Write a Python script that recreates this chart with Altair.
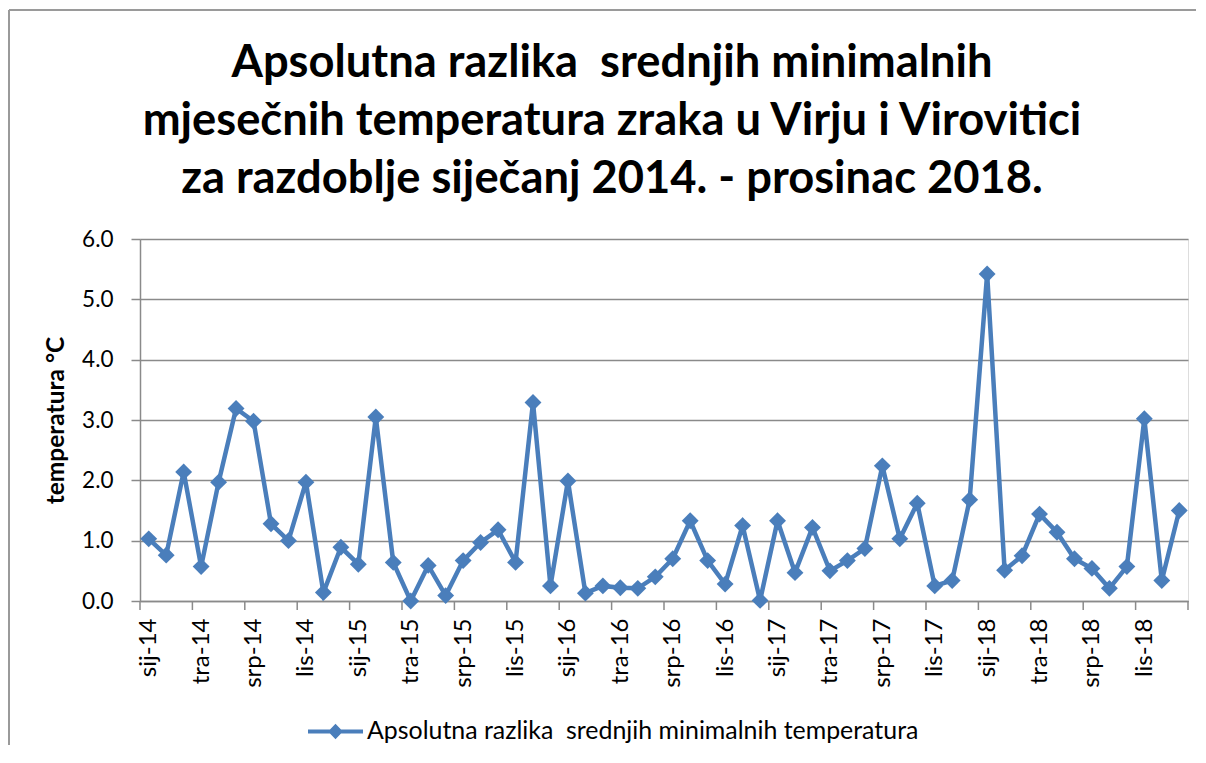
import json
import altair as alt
import pandas as pd

# ---------------- data ----------------
month_abbr = ["sij", "velj", "ožu", "tra", "svi", "lip", "srp", "kol", "ruj", "lis", "stu", "pro"]
years = ["14", "15", "16", "17", "18"]
labels = [f"{m}-{y}" for y in years for m in month_abbr]

values_2014 = [1.03, 0.76, 2.14, 0.57, 1.97, 3.19, 2.98, 1.28, 1.00, 1.97, 0.14, 0.89]
values_2015 = [0.61, 3.05, 0.64, 0.00, 0.59, 0.09, 0.67, 0.97, 1.18, 0.64, 3.29, 0.25]
values_2016 = [1.99, 0.13, 0.25, 0.22, 0.21, 0.40, 0.70, 1.33, 0.67, 0.28, 1.25, 0.01]
values_2017 = [1.33, 0.47, 1.22, 0.50, 0.67, 0.87, 2.24, 1.03, 1.62, 0.25, 0.34, 1.68]
values_2018 = [5.42, 0.51, 0.75, 1.44, 1.14, 0.70, 0.54, 0.21, 0.57, 3.02, 0.34, 1.50]
values = values_2014 + values_2015 + values_2016 + values_2017 + values_2018

series_name = "Apsolutna razlika \u00a0srednjih minimalnih temperatura"
title_lines = [
    "Apsolutna razlika \u00a0srednjih minimalnih",
    "mjesečnih temperatura zraka u Virju i Virovitici",
    "za razdoblje siječanj 2014. - prosinac 2018.",
]
y_title = "temperatura °C"
y_ticks = [0, 1, 2, 3, 4, 5, 6]

n = len(values)
df = pd.DataFrame({
    "pos": [i + 0.5 for i in range(n)],
    "label": labels,
    "value": values,
    "series": [series_name] * n,
})
tick_df = pd.DataFrame({"b": list(range(0, n + 1, 3))})
label_positions = [i + 0.5 for i in range(0, n, 3)]

LINE = "#4A7EBB"
GRID = "#8A8A8A"
FONT = "Lato"

W, H = 1048, 362

x_scale = alt.Scale(domain=[0, n], nice=False, zero=False)
label_expr = json.dumps(labels, ensure_ascii=False) + "[floor(datum.value)]"

legend_symbol = "M-1,-0.075L1,-0.075L1,0.075L-1,0.075ZM0,-0.28L0.27,0L0,0.28L-0.27,0Z"

line = alt.Chart(df).mark_line(
    strokeWidth=4.5,
    point=alt.OverlayMarkDef(shape="diamond", size=285, filled=True, color=LINE, opacity=1),
).encode(
    x=alt.X("pos:Q", scale=x_scale, axis=alt.Axis(
        values=label_positions, labelExpr=label_expr, ticks=False, grid=False,
        domainColor=GRID, domainWidth=1.5, labelAngle=270, labelAlign="right",
        labelBaseline="middle", labelPadding=17, labelFont=FONT, labelFontSize=24,
        labelColor="#000000", title=None, labelOverlap=False)),
    y=alt.Y("value:Q", scale=alt.Scale(domain=[0, 6], nice=False), axis=alt.Axis(
        values=y_ticks, format=".1f", grid=True, gridColor=GRID, gridWidth=1.5,
        domainColor=GRID, domainWidth=1.5, tickColor=GRID, tickWidth=1.5, tickSize=9,
        labelPadding=18, labelFont=FONT, labelFontSize=22.5, labelColor="#000000",
        title=y_title, titleFont=FONT, titleFontSize=24.5, titleFontWeight="bold",
        titleColor="#000000", titlePadding=13)),
    color=alt.Color("series:N", scale=alt.Scale(range=[LINE]), legend=alt.Legend(
        title=None, orient="none", legendX=168, legendY=465, padding=0,
        symbolType=legend_symbol, symbolSize=3025, symbolStrokeWidth=0,
        symbolFillColor=LINE, symbolOpacity=1, labelFont=FONT, labelFontSize=24.9,
        labelColor="#000000", labelOffset=4, labelLimit=800)),
)

ticks = alt.Chart(tick_df).mark_rule(color=GRID, strokeWidth=1.5).encode(
    x=alt.X("b:Q", scale=x_scale, title=None),
    y=alt.value(H),
    y2=alt.value(H + 9),
)

frame_df = pd.DataFrame({"k": [0]})
border_left = alt.Chart(frame_df).mark_rule(color="#9A9A9A", strokeWidth=2).encode(
    x=alt.value(-131), y=alt.value(-229), y2=alt.value(H + 144)
)
border_top = alt.Chart(frame_df).mark_rule(color="#9A9A9A", strokeWidth=2).encode(
    x=alt.value(-131), x2=alt.value(W + 8), y=alt.value(-229)
)

chart = alt.layer(border_left, border_top, line, ticks).properties(
    width=W,
    height=H,
    padding={"left": 132, "top": 231, "right": 8, "bottom": 144},
    autosize=alt.AutoSizeParams(type="none"),
    title=alt.TitleParams(
        text=title_lines, fontSize=45.3, font=FONT, fontWeight="bold", color="#000000",
        anchor="middle", dx=-52, dy=193, lineHeight=58, offset=0,
    ),
).configure_view(stroke=None).configure(background="white")

chart.save("out.html", embed_options={"renderer": "svg", "actions": False})
